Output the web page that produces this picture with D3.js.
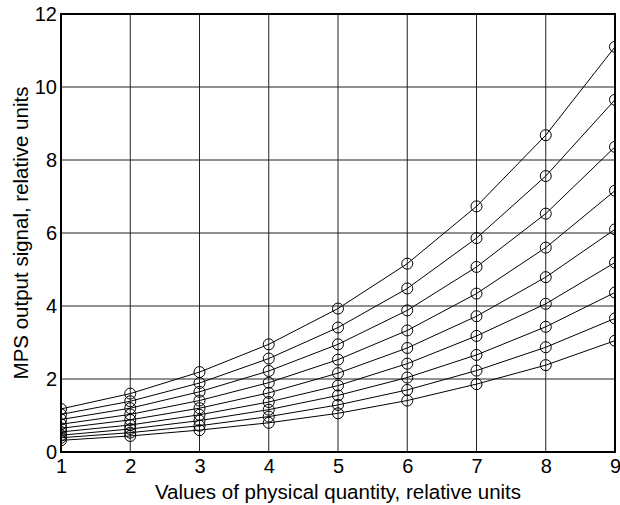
<!DOCTYPE html>
<html>
<head>
<meta charset="utf-8">
<script src="https://cdn.jsdelivr.net/npm/d3@7"></script>
<style>
  body { margin: 0; background: #fff; }
  svg { font-family: "Liberation Sans", Arial, sans-serif; }
</style>
</head>
<body>
<svg></svg>
<script>
// x values (physical quantity) and the 9 measured curves
var xValues = [1, 2, 3, 4, 5, 6, 7, 8, 9]
var s1 = [1.18, 1.60, 2.19, 2.95, 3.93, 5.16, 6.73, 8.68, 11.10]
var s2 = [1.03, 1.39, 1.89, 2.56, 3.41, 4.48, 5.86, 7.56, 9.65]
var s3 = [0.89, 1.20, 1.65, 2.22, 2.95, 3.88, 5.07, 6.53, 8.36]
var s4 = [0.76, 1.03, 1.41, 1.90, 2.53, 3.33, 4.34, 5.60, 7.16]
var s5 = [0.65, 0.88, 1.20, 1.62, 2.16, 2.85, 3.72, 4.79, 6.10]
var s6 = [0.55, 0.74, 1.02, 1.37, 1.82, 2.42, 3.18, 4.06, 5.19]
var s7 = [0.46, 0.63, 0.86, 1.16, 1.55, 2.04, 2.66, 3.43, 4.37]
var s8 = [0.39, 0.53, 0.72, 0.97, 1.29, 1.70, 2.23, 2.87, 3.66]
var s9 = [0.32, 0.44, 0.60, 0.80, 1.06, 1.41, 1.86, 2.38, 3.05]
var series = [s1, s2, s3, s4, s5, s6, s7, s8, s9]

var xTicks = [1, 2, 3, 4, 5, 6, 7, 8, 9]
var yTicks = [0, 2, 4, 6, 8, 10, 12]

var width = 620, height = 505
var margin = {top: 14, right: 5, bottom: 53, left: 61}
var w = width - margin.left - margin.right
var h = height - margin.top - margin.bottom

var svg = d3.select("svg")
    .attr("width", width)
    .attr("height", height)

var g = svg.append("g")
    .attr("transform", `translate(${margin.left}, ${margin.top})`)

var scX = d3.scaleLinear().domain([1, 9]).range([0, w])
var scY = d3.scaleLinear().domain([0, 12]).range([h, 0])

g.append("clipPath").attr("id", "clip")
  .append("rect").attr("width", w).attr("height", h)

// grid
g.append("g").selectAll("line").data(xTicks).enter().append("line")
    .attr("x1", d => scX(d)).attr("x2", d => scX(d))
    .attr("y1", 0).attr("y2", h)
    .attr("stroke", "#222").attr("stroke-width", 1)
g.append("g").selectAll("line").data(yTicks).enter().append("line")
    .attr("x1", 0).attr("x2", w)
    .attr("y1", d => scY(d)).attr("y2", d => scY(d))
    .attr("stroke", "#222").attr("stroke-width", 1)

// curves
var line = d3.line().x((d, i) => scX(xValues[i])).y(d => scY(d))
var plot = g.append("g").attr("clip-path", "url(#clip)")

plot.selectAll("path.curve").data(series).enter().append("path")
    .attr("class", "curve")
    .attr("d", line)
    .attr("fill", "none")
    .attr("stroke", "#000")
    .attr("stroke-width", 1)

series.forEach(s => {
  plot.append("g").selectAll("circle").data(s).enter().append("circle")
      .attr("cx", (d, i) => scX(xValues[i]))
      .attr("cy", d => scY(d))
      .attr("r", 5.5)
      .attr("fill", "none")
      .attr("stroke", "#000")
      .attr("stroke-width", 1)
})

// frame
g.append("rect")
    .attr("width", w).attr("height", h)
    .attr("fill", "none").attr("stroke", "#000").attr("stroke-width", 2)

// tick labels
var xAxis = d3.axisBottom(scX).tickValues(xTicks).tickSize(0).tickPadding(7).tickFormat(d3.format("d"))
var yAxis = d3.axisLeft(scY).tickValues(yTicks).tickSize(0).tickPadding(4).tickFormat(d3.format("d"))

var xg = g.append("g").attr("transform", `translate(0, ${h})`).call(xAxis)
var yg = g.append("g").call(yAxis)
xg.select(".domain").remove()
yg.select(".domain").remove()
xg.selectAll("text").attr("font-size", 20).attr("fill", "#000").attr("font-family", "Liberation Sans, Arial, sans-serif")
yg.selectAll("text").attr("font-size", 20).attr("fill", "#000").attr("font-family", "Liberation Sans, Arial, sans-serif")

svg.append("text")
    .attr("x", margin.left + scX(5))
    .attr("y", 499)
    .attr("text-anchor", "middle")
    .attr("font-size", 20.5)
    .text("Values of physical quantity, relative units")

svg.append("text")
    .attr("transform", `translate(28, ${margin.top + h / 2}) rotate(-90)`)
    .attr("text-anchor", "middle")
    .attr("font-size", 20.5)
    .text("MPS output signal, relative units")
</script>
</body>
</html>
